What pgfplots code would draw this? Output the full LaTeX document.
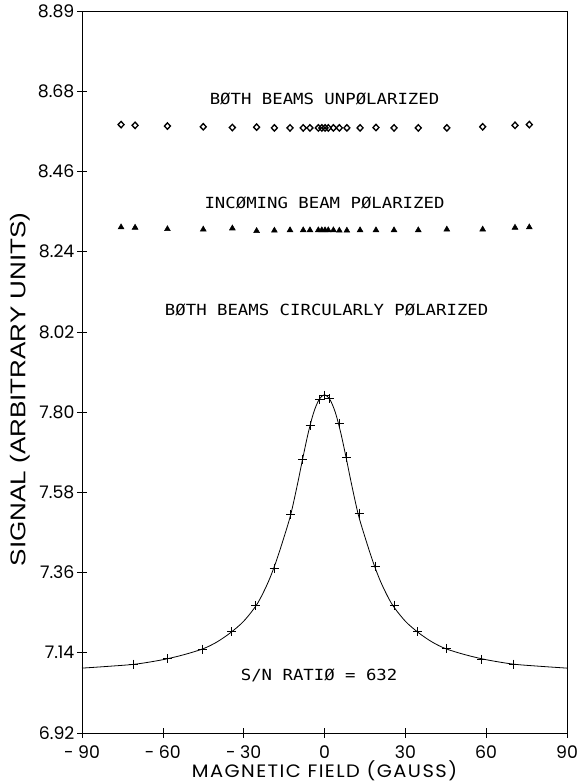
\documentclass[border=0pt]{standalone}
\usepackage{fontspec}
\setmainfont{Poppins}
\newfontfamily\plotfont[FakeStretch=1.13]{DejaVu Sans Mono}
\newfontfamily\ylabfont[FakeStretch=1.22]{Liberation Sans}
\newfontfamily\xlabfont[FakeStretch=1.08,LetterSpace=8]{Poppins}
\usepackage{pgfplots}
\pgfplotsset{compat=1.18}

\pgfplotstableread{
x y
-75.5 8.580
-70.3 8.578
-58.3 8.576
-45.0 8.574
-34.2 8.572
-25.2 8.573
-18.6 8.571
-12.8 8.571
-7.9 8.571
-5.4 8.571
-2.3 8.571
-1.0 8.571
0.2 8.571
1.4 8.571
3.3 8.571
5.5 8.571
8.3 8.571
13.2 8.571
19.1 8.572
25.8 8.571
34.8 8.571
45.4 8.571
58.7 8.574
70.7 8.578
76.0 8.580
}\unpol
\pgfplotstableread{
x y
-75.5 8.300
-70.3 8.299
-58.3 8.295
-45.0 8.294
-34.2 8.297
-25.2 8.290
-18.6 8.291
-12.8 8.292
-7.9 8.292
-5.4 8.292
-2.3 8.292
-1.0 8.292
0.2 8.292
1.4 8.292
3.3 8.292
5.5 8.291
8.3 8.291
13.2 8.292
19.1 8.292
25.8 8.292
34.8 8.292
45.4 8.294
58.7 8.294
70.7 8.299
76.0 8.300
}\incpol
\pgfplotstableread{
x y
-70.8 7.108
-58.3 7.122
-45.4 7.149
-34.4 7.196
-25.5 7.267
-18.7 7.370
-12.5 7.516
-8.2 7.667
-5.3 7.759
-1.9 7.830
0.0 7.841
2.0 7.832
5.5 7.764
8.2 7.673
12.9 7.520
18.8 7.375
25.9 7.269
34.5 7.196
45.4 7.151
58.4 7.121
70.1 7.108
}\circpol
% fitted curve as drawn
\pgfplotstableread{
x y
-90 7.097
-80 7.102
-70 7.108
-60 7.120
-52 7.134
-45 7.150
-40 7.168
-35 7.193
-30 7.225
-25 7.272
-21 7.330
-18 7.387
-15 7.455
-12.5 7.517
-10 7.600
-8 7.672
-6 7.740
-4 7.795
-2 7.830
0 7.843
2 7.830
4 7.795
6 7.740
8 7.672
10 7.600
12.5 7.517
15 7.455
18 7.387
21 7.330
25 7.272
30 7.225
35 7.193
40 7.168
45 7.150
52 7.134
60 7.120
70 7.108
80 7.102
90 7.097
}\fitcurve

\begin{document}
\begin{tikzpicture}
\begin{axis}[
  name=ax,
  scale only axis,
  width=363.75pt,
  height=541.5pt,
  xmin=-90, xmax=90,
  ymin=6.92, ymax=8.89,
  xtick={-90,-60,-30,0,30,60,90},
  xticklabels={- 90,- 60,- 30,0,30,60,90},
  ytick={6.92,7.1389,7.3578,7.5767,7.7956,8.0144,8.2333,8.4522,8.6711,8.89},
  yticklabels={6.92,7.14,7.36,7.58,7.80,8.02,8.24,8.46,8.68,8.89},
  xtick pos=bottom, ytick pos=left,
  tick align=center,
  major tick length=7pt,
  tick style={black, line width=0.5pt},
  axis line style={black, line width=0.7pt},
  tick label style={font=\fontsize{13}{13}\selectfont},
  xticklabel style={anchor=center, yshift=-11pt, inner sep=0pt},
  yticklabel style={anchor=east, xshift=-2pt, inner sep=0pt},
  xlabel={MAGNETIC FIELD (GAUSS)},
  ylabel={SIGNAL (ARBITRARY UNITS)},
  xlabel style={font=\xlabfont\fontsize{13.5}{13.5}\selectfont, at={(axis description cs:0.5,-0.0526)}, anchor=center},
  ylabel style={font=\ylabfont\fontsize{16}{16}\selectfont, at={(axis description cs:-0.128,0.476)}, anchor=center},
  clip=false,
]
\addplot[black, line width=0.6pt, smooth] table[x=x,y=y] {\fitcurve};
\addplot[only marks, black, mark=+, mark size=3.4pt, mark options={line width=0.7pt}] table[x=x,y=y] {\circpol};
\addplot[only marks, black, mark=diamond, mark size=2.4pt, mark options={line width=1pt, xscale=1.25}] table[x=x,y=y] {\unpol};
\addplot[only marks, black, mark=triangle*, mark size=2.5pt] table[x=x,y=y] {\incpol};
\node[font=\plotfont\fontsize{11.5}{11.5}\selectfont] at (axis cs:0,8.65) {BØTH BEAMS UNPØLARIZED};
\node[font=\plotfont\fontsize{11.5}{11.5}\selectfont] at (axis cs:0,8.367) {INCØMING BEAM PØLARIZED};
\node[font=\plotfont\fontsize{11.5}{11.5}\selectfont] at (axis cs:0.8,8.075) {BØTH BEAMS CIRCULARLY PØLARIZED};
\node[font=\plotfont\fontsize{11.5}{11.5}\selectfont] at (axis cs:-2,7.078) {S/N RATIØ = 632};
\end{axis}
\pgfresetboundingbox
\path[use as bounding box] ([shift={(-61.5pt,-38.25pt)}]ax.south west) rectangle ([shift={(8.25pt,8.25pt)}]ax.north east);
\end{tikzpicture}
\end{document}
